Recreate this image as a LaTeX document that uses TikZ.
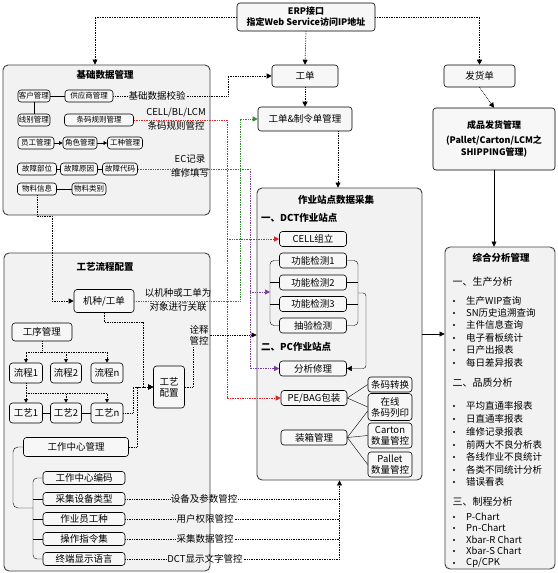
\documentclass[tikz,border=0pt]{standalone}
\usepackage{fontspec}
\setmainfont{Noto Sans CJK SC}
\usetikzlibrary{arrows.meta,calc}
\definecolor{rd}{HTML}{D42A2A}
\definecolor{gn}{HTML}{2E8B2E}
\definecolor{pu}{HTML}{7B3FA0}
\tikzset{
  grp/.style={draw=black!75, fill=black!5, rounded corners=5pt, line width=0.9pt},
  bx/.style={draw, fill=black!3, rounded corners=3pt, line width=0.6pt, inner sep=1pt, align=center, font=\fontsize{9.5}{11}\selectfont},
  sbx/.style={bx, font=\fontsize{7.5}{8}\selectfont},
  sz/.style 2 args={minimum width=#1pt, minimum height=#2pt},
  dl/.style={densely dotted, line width=0.7pt},
  arr/.style={-{Triangle[length=5pt,width=5pt]}},
  sarr/.style={-{Triangle[length=3.5pt,width=3.5pt]}},
  lbl/.style={font=\fontsize{9.5}{11}\selectfont, align=center, inner sep=1pt},
  hd/.style={font=\bfseries\fontsize{9.5}{11}\selectfont, inner sep=1pt},
  item/.style={font=\fontsize{9.5}{11}\selectfont, inner sep=0pt, anchor=west},
}

\begin{document}
\begin{tikzpicture}[x=1pt,y=-1pt]
		%%%%% START %%%%%
		\useasboundingbox[fill=white] (0,0) rectangle (557,573);
		
		% containers
		\node[grp,sz={207}{150}] (base) at (106.5,140) {};
		\node[hd] (baseT) at (105,75) {基础数据管理};
		\node[grp,sz={206}{318}] (proc) at (107,412) {};
		\node[hd] (procT) at (105,267) {工艺流程配置};
		\node[grp,sz={165}{292}] (dct) at (339.5,334) {};
		\node[hd] (dctT) at (336,200) {作业站点数据采集};
		\node[grp,sz={110}{322}] (ana) at (500,408) {};
		\node[hd] (anaT) at (501,258) {综合分析管理};
		
		% top row
		\node[bx,sz={138}{28},font=\bfseries\fontsize{9}{11}\selectfont] (erp) at (306,17) {ERP接口\\指定Web Service访问IP地址};
		\node[bx,sz={66}{22}] (wo) at (305,76) {工单};
		\node[bx,sz={71}{22}] (ship) at (479.5,76) {发货单};
		\node[bx,sz={94}{24}] (woMgt) at (305,119) {工单\&制令单管理};
		\node[bx,sz={122}{62},font=\bfseries\fontsize{9}{12}\selectfont] (fg) at (494,139) {成品发货管理\\[3pt](Pallet/Carton/LCM之\\SHIPPING管理)};
		
		% base data
		\node[sbx,sz={31}{12}] (c1) at (34,96) {客户管理};
		\node[sbx,sz={48}{12}] (c2) at (89,96) {供应商管理};
		\node[sbx,sz={31}{12}] (c3) at (34,120) {线别管理};
		\node[sbx,sz={69}{12}] (c4) at (99,120) {条码规则管理};
		\node[sbx,sz={36}{12}] (c5) at (36,143) {员工管理};
		\node[sbx,sz={34}{12}] (c6) at (80,143) {角色管理};
		\node[sbx,sz={35}{12}] (c7) at (125,143) {工种管理};
		\node[sbx,sz={39}{12}] (c8) at (37,169) {故障部位};
		\node[sbx,sz={37}{12}] (c9) at (79,169) {故障原因};
		\node[sbx,sz={35}{12}] (c10) at (120,169) {故障代码};
		\node[sbx,sz={39}{12}] (c11) at (37,189) {物料信息};
		\node[sbx,sz={34}{12}] (c12) at (89,189) {物料类别};
		\draw (c1) -- (c2);
		\draw (c1) -- (c3);
		\draw[sarr] (c5) -- (c6);
		\draw[sarr] (c6) -- (c7);
		\draw (c8) -- (c9) -- (c10);
		\draw (c11) -- (c12);
		
		% process config
		\node[bx,sz={60}{23}] (mt) at (104,301) {机种/工单};
		\node[bx,sz={60}{18}] (op) at (42,332) {工序管理};
		\node[bx,sz={33}{20}] (f1) at (26,373) {流程1};
		\node[bx,sz={31}{20}] (f2) at (66,373) {流程2};
		\node[bx,sz={32}{20}] (fn) at (107,373) {流程n};
		\node[bx,sz={33}{20}] (t1) at (26,413) {工艺1};
		\node[bx,sz={31}{20}] (t2) at (66,413) {工艺2};
		\node[bx,sz={32}{20}] (tn) at (107,413) {工艺n};
		\node[bx,sz={31}{42}] (cfg) at (169,387) {工艺\\配置};
		\node[bx,sz={105}{19}] (wc) at (76,447) {工作中心管理};
		\node[bx,sz={82}{13}] (w1) at (84,478) {工作中心编码};
		\node[bx,sz={82}{13}] (w2) at (84,499) {采集设备类型};
		\node[bx,sz={82}{13}] (w3) at (84,519) {作业员工种};
		\node[bx,sz={82}{13}] (w4) at (84,539) {操作指令集};
		\node[bx,sz={82}{13}] (w5) at (84,559) {终端显示语言};
		
		\coordinate (opj) at (42,352);
		\draw[dl] (op.south) -- (opj);
		\draw[dl,sarr] (opj) -| (f1.north);
		\draw[dl,sarr] (opj) -| (f2.north);
		\draw[dl,sarr] (opj) -| (fn.north);
		\coordinate (fj) at (26,393);
		\draw[dl] (f1.south) -- (fj);
		\draw[dl,sarr] (fj) -- (t1.north);
		\draw[dl,sarr] (fj) -| (t2.north);
		\draw[dl,sarr] (fj) -| (tn.north);
		\draw (t1) -- (t2) -- (tn);
		\draw[dl,arr] (mt.south) |- (143,322) |- (cfg.west);
		\draw[dl,arr] (tn.east) -- (133,413) |- (cfg.west);
		\draw[dl,arr] (wc.east) -- (137,447) |- (cfg.west);
		\draw[rounded corners=5pt] (wc.west) -| (13,508) -- (33,508);
		\draw[rounded corners=4pt] (w1.west) -| (33,559) -- (w5.west);
		\draw (w2.west) -- (33,499);
		\draw (w3.west) -- (33,519);
		\draw (w4.west) -- (33,539);
		
		% stations
		\node[hd,anchor=west] (h1) at (260,218) {一、DCT作业站点};
		\node[hd,anchor=west] (h2) at (260,347) {二、PC作业站点};
		\node[bx,sz={67}{15}] (s0) at (313,239) {CELL组立};
		\node[bx,sz={67}{15}] (s1) at (313,260.5) {功能检测1};
		\node[bx,sz={67}{15}] (s2) at (313,282.5) {功能检测2};
		\node[bx,sz={67}{15}] (s3) at (313,304) {功能检测3};
		\node[bx,sz={67}{15}] (s4) at (313,325.5) {抽验检测};
		\node[bx,sz={67}{15}] (s5) at (313,368.5) {分析修理};
		\node[bx,sz={66}{15}] (s6) at (314,398) {PE/BAG包装};
		\node[bx,sz={66}{15}] (s7) at (314,437.5) {装箱管理};
		\node[bx,sz={44}{15}] (r1) at (390,384.5) {条码转换};
		\node[bx,sz={44}{27}] (r2) at (390,407) {在线\\条码列印};
		\node[bx,sz={44}{25}] (r3) at (390,435.5) {Carton\\数量管控};
		\node[bx,sz={44}{25}] (r4) at (390,464.5) {Pallet\\数量管控};
		
		\draw[rounded corners=4pt] (s1.west) -| (270,325.5) -- (s4.west);
		\draw (s2.west) -- (270,282.5);
		\draw (s3.west) -- (270,304);
		\coordinate (lsp) at (270,292);
		\draw[rounded corners=4pt] (s1.east) -| (358,325.5) -- (s4.east);
		\draw (s2.east) -- (358,282.5);
		\draw (s3.east) -- (358,304);
		\coordinate (rsp) at (358,293);
		\draw[arr,rounded corners=3pt] (rsp) -- (366,293) |- (s5.east);
		\draw (s6.east) -- (r1.west);
		\draw (s6.east) -- (r2.west);
		\draw (s7.east) -- ([yshift=-4pt]r2.west);
		\draw (s7.east) -- (r3.west);
		\draw (s7.east) -- (r4.west);
		
		% analysis
		\node[font=\fontsize{10}{11}\selectfont,anchor=west] (g1) at (449,282) {一、生产分析};
		\node[font=\fontsize{10}{11}\selectfont,anchor=west] (g2) at (449,383) {二、品质分析};
		\node[font=\fontsize{10}{11}\selectfont,anchor=west] (g3) at (449,502) {三、制程分析};
		\foreach \y/\t [count=\i] in {301/生产WIP查询, 313/SN历史追溯查询, 325/主件信息查询, 338/电子看板统计, 350/日产出报表, 363/每日差异报表, 406/平均直通率报表, 419/日直通率报表, 432/维修记录报表, 445/前两大不良分析表, 457/各线作业不良统计, 470/各类不同统计分析, 482/错误看表, 517/P-Chart, 528/Pn-Chart, 540/Xbar-R Chart, 551/Xbar-S Chart, 563/{Cp/CPK}} {
			\node[item] (it\i) at (466,\y) {\t};
			\fill (454,\y) circle (1.2);
		}
		
		% links from ERP
		\draw[dl,arr] (erp.west) -| ([xshift=-11.5pt]base.north);
		\draw[dl,arr] (erp.south) -- (wo.north);
		\draw[dl,arr] (erp.east) -| (ship.north);
		\draw[dl,arr] (wo.south) -- (woMgt.north);
		\draw[dl,arr] (ship.south) -- (fg.north);
		\draw[arr] (fg.south) -- (fg.south |- ana.north);
		\draw[arr] (dct.east) -- (dct.east -| ana.west);
		\draw[dl,arr] ([xshift=33pt]woMgt.south) -- ([xshift=33pt]woMgt.south |- dct.north);
		
		% cross links
		\node[lbl] (lChk) at (157,96) {基础数据校验};
		\draw[dl] (c2.east) -- (lChk.west);
		\draw[dl,arr] (lChk.east) -- (228,96) |- (wo.west);
		\node[lbl] (lCell) at (176,119.5) {CELL/BL/LCM\\[3pt]条码规则管控};
		\draw[dl,rd,arr] (c4.east) -- (227,120) |- (s6.west);
		\coordinate (rj) at (227,239);
		\draw[dl,rd,arr] (rj) -- (s0.west);
		\node[lbl] (lEc) at (190,166.5) {EC记录\\[3pt]维修填写};
		\draw[dl,pu,arr] (c10.east) -- (250,169) |- (s5.west);
		\coordinate (pj) at (250,292);
		\draw[dl,pu,arr] (pj) -- (lsp);
		\node[lbl] (lObj) at (178,300) {以机种或工单为\\[3pt]对象进行关联};
		\draw[dl,gn,arr] (mt.east) -- (240,301) |- (woMgt.west);
		\draw[dl,arr] (c11.south) |- (52,216) |- (mt.west);
		\node[lbl] (lQs) at (199,335) {诠释\\管控};
		\draw[dl] (cfg.east) -| ([xshift=-6pt]lQs.south);
		\draw[dl,arr] (lQs.east) -- (lQs.east -| dct.west);
		
		% control lines
		\node[lbl] (m1) at (204,499) {设备及参数管控};
		\node[lbl] (m2) at (205,519) {用户权限管控};
		\node[lbl] (m3) at (205,539) {采集数据管控};
		\node[lbl] (m4) at (205,559) {DCT显示文字管控};
		\draw[dl] (w2.east) -- (m1.west);
		\draw[dl] (w3.east) -- (m2.west);
		\draw[dl] (w4.east) -- (m3.west);
		\draw[dl] (w5.east) -- (m4.west);
		\draw[dl] (m1.east) -- (m1.east -| dct.south);
		\draw[dl] (m2.east) -- (m2.east -| dct.south);
		\draw[dl] (m3.east) -- (m3.east -| dct.south);
		\draw[dl,arr] (m4.east) -| (dct.south);
		
		%%%%% END %%%%%
	\end{tikzpicture}
\end{document}
